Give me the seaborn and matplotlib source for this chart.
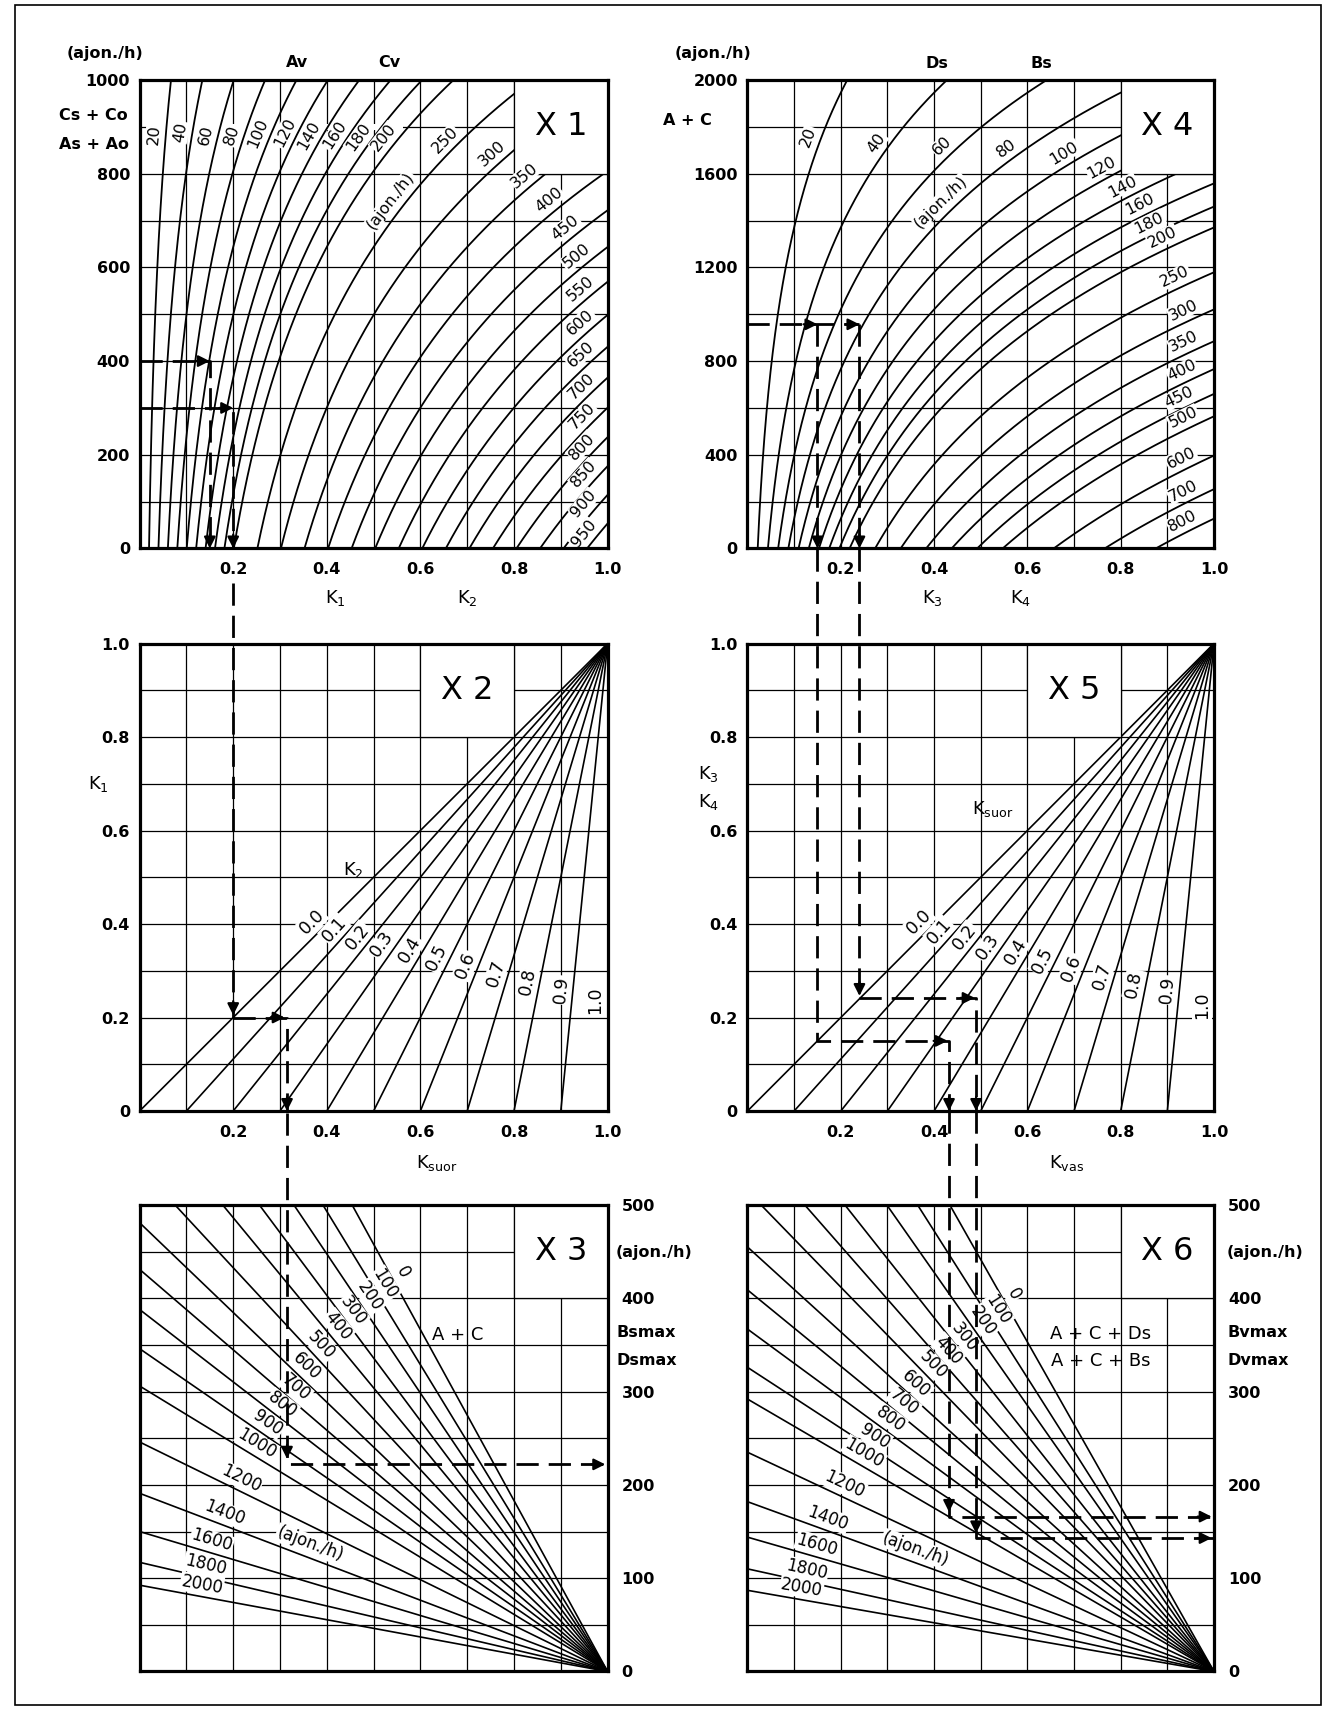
import numpy as np
import pandas as pd
import matplotlib
matplotlib.use("Agg")
import matplotlib.pyplot as plt
from matplotlib.patches import Rectangle
import seaborn as sns

sns.set_theme(style="white")
plt.rcParams["font.family"] = ["DejaVu Sans"]
plt.rcParams["mathtext.default"] = "regular"
plt.rcParams["axes.edgecolor"] = "black"
plt.rcParams["text.color"] = "black"
plt.rcParams["axes.labelcolor"] = "black"
plt.rcParams["xtick.color"] = "black"
plt.rcParams["ytick.color"] = "black"

# ------------------------------------------------------------------ data
# X1 : curves of Av / Cv (ajon./h)
x1_flows = [20, 40, 60, 80, 100, 120, 140, 160, 180, 200, 250, 300, 350, 400,
            450, 500, 550, 600, 650, 700, 750, 800, 850, 900, 950]
# capacity (flow at which K = 1) vs Cs+Co / As+Ao
x1_conf = [0, 46, 110, 174, 238, 302, 370, 430, 502, 567, 647, 723, 800, 845, 972, 1000]
x1_cap = [1000, 950, 900, 850, 800, 750, 700, 650, 600, 550, 500, 450, 400, 375, 312, 300]

# X4 : curves of Ds / Bs (ajon./h)
x4_flows = [20, 40, 60, 80, 100, 120, 140, 160, 180, 200, 250, 300, 350, 400,
            450, 500, 600, 700, 800]
x4_conf = [0, 129, 250, 404, 564, 657, 764, 893, 1014, 1182, 1373, 1458, 1557,
           1614, 1756, 1947, 2000]
x4_cap = [912, 800, 700, 600, 500, 450, 400, 350, 300, 250, 200, 180, 160, 150,
          125, 100, 94]

# X2 / X5 : lines of K2 / Ksuor
k_params = [0.0, 0.1, 0.2, 0.3, 0.4, 0.5, 0.6, 0.7, 0.8, 0.9, 1.0]
k_labels = ["0.0", "0.1", "0.2", "0.3", "0.4", "0.5", "0.6", "0.7", "0.8", "0.9", "1.0"]

# X3 / X6 : lines of A+C (ajon./h); value read at Ksuor / Kvas = 0
x36_flows = [0, 100, 200, 300, 400, 500, 600, 700, 800, 900, 1000, 1200, 1400,
             1600, 1800, 2000]
x3_start = [916, 822, 746, 672, 608, 541, 481, 431, 388, 346, 306, 246, 191, 150,
            117, 92.5]
x6_start = [883, 787, 713, 632, 570, 515, 455, 409, 367, 326, 292, 235, 182, 144,
            110, 87]

# worked example (dashed paths)
x1_ex_q = [400, 300]
x1_ex_k = [0.15, 0.2]
x2_ex_k1 = 0.2
x2_ex_ksuor = 0.315
x3_ex_out = 222
x4_ex_q = 957
x4_ex_k = [0.15, 0.24]
x5_ex_kvas = [0.432, 0.49]
x6_ex_out = [166, 143]

# ------------------------------------------------------------------ layout
fig = plt.figure(figsize=(13.34, 17.11), dpi=100)
fig.patch.set_facecolor("white")
L1, W1 = 0.10465, 0.35082
L2, W2 = 0.56034, 0.34970
R1, R2, R3 = (0.67943, 0.27382), (0.35067, 0.27323), (0.02309, 0.27265)
ax1 = fig.add_axes([L1, R1[0], W1, R1[1]])
ax4 = fig.add_axes([L2, R1[0], W2, R1[1]])
ax2 = fig.add_axes([L1, R2[0], W1, R2[1]])
ax5 = fig.add_axes([L2, R2[0], W2, R2[1]])
ax3 = fig.add_axes([L1, R3[0], W1, R3[1]])
ax6 = fig.add_axes([L2, R3[0], W2, R3[1]])

fig.add_artist(Rectangle((15 / 1334, 1 - 1705 / 1711), 1306 / 1334, 1700 / 1711,
                         transform=fig.transFigure, fill=False, lw=1.2,
                         edgecolor="black"))

GRID = dict(color="black", lw=0.9, zorder=1, solid_capstyle="butt")


def style_axes(ax, ylim, xg, yg, box):
    ax.set_xlim(0, 1)
    ax.set_ylim(*ylim)
    for x in xg:
        ax.plot([x, x], list(ylim), **GRID)
    for y in yg:
        ax.plot([0, 1], [y, y], **GRID)
    bx0, bx1, by0, by1 = box
    ax.add_patch(Rectangle((bx0, by0), bx1 - bx0, by1 - by0, facecolor="white",
                           edgecolor="none", zorder=2.5))
    ax.plot([bx0, bx1, bx1, bx0, bx0], [by0, by0, by1, by1, by0], color="black",
            lw=0.9, zorder=2.6)
    for s in ax.spines.values():
        s.set_visible(True)
        s.set_linewidth(2.3)
        s.set_color("black")
        s.set_zorder(8)
    ax.tick_params(length=0, labelsize=11.5, colors="black")


def finish(ax, ylim):
    ax.set_xlim(0, 1)
    ax.set_ylim(*ylim)
    ax.set_xlabel("")
    ax.set_ylabel("")
    for lab in ax.get_xticklabels() + ax.get_yticklabels():
        lab.set_fontweight("bold")
        lab.set_color("black")


def place_label(ax, cx, cy, cur_x, cur_y, text, off=12, fs=10.5):
    cur_x = np.asarray(cur_x, float)
    cur_y = np.asarray(cur_y, float)
    P = ax.transData.transform(np.column_stack([cur_x, cur_y]))
    c = ax.transData.transform((cx, cy))
    i = int(np.argmin(((P - c) ** 2).sum(1)))
    i0, i1 = max(i - 1, 0), min(i + 1, len(P) - 1)
    d = P[i1] - P[i0]
    if d[0] < 0 or (d[0] == 0 and d[1] < 0):
        d = -d
    ang = np.degrees(np.arctan2(d[1], d[0]))
    n = np.array([-np.sin(np.radians(ang)), np.cos(np.radians(ang))])
    if np.dot(c - P[i], n) < 0:
        n = -n
    ax.annotate(text, xy=(cur_x[i], cur_y[i]), xytext=(n[0] * off, n[1] * off),
                textcoords="offset pixels", rotation=ang, rotation_mode="anchor",
                ha="center", va="center", fontsize=fs, zorder=3, color="black",
                annotation_clip=False,
                bbox=dict(facecolor="white", edgecolor="none", pad=0.6))


DASH = dict(color="black", lw=2.0, ls=(0, (8, 3.6)), zorder=5, clip_on=False,
            dash_capstyle="butt")


def dpath(ax, xs, ys):
    ax.plot(xs, ys, **DASH)


def head(ax, x, y, d):
    back = {"r": (-14, 0), "d": (0, 14)}[d]
    ax.annotate("", xy=(x, y), xytext=back, textcoords="offset pixels",
                annotation_clip=False, zorder=6,
                arrowprops=dict(arrowstyle="-|>", mutation_scale=17, color="black",
                                lw=1.6, shrinkA=0, shrinkB=0))


def side_text(ax, x, y, s, ha="left", fs=11.5, weight="bold", **kw):
    ax.text(x, y, s, ha=ha, va="center", fontsize=fs, fontweight=weight,
            color="black", clip_on=False, **kw)


def dense(xa, ya, n=200):
    t = np.linspace(0, 1, n)
    return xa[0] + (xa[1] - xa[0]) * t, ya[0] + (ya[1] - ya[0]) * t


# ================================================================== X1
Y1 = (0, 1000)
style_axes(ax1, Y1, np.arange(0.1, 1.0, 0.1), np.arange(100, 1000, 100),
           (0.8, 1.0, 800, 1000))
ax1.add_patch(Rectangle((0.018, 893), 0.545, 14, facecolor="white", edgecolor="none",
                        zorder=1.5))
c1 = np.polyfit(x1_conf, np.log(x1_cap), 2)
q1 = np.linspace(0, 1000, 700)
cap1 = np.exp(np.polyval(c1, q1))
rows, curves1 = [], {}
for v in x1_flows:
    k = v / cap1
    m = k <= 1.02
    curves1[v] = (k[m], q1[m])
    rows += [(v, a, b) for a, b in zip(k[m], q1[m])]
df1 = pd.DataFrame(rows, columns=["curve", "k", "q"])
sns.lineplot(data=df1, x="k", y="q", units="curve", estimator=None, sort=False,
             color="black", lw=1.3, ax=ax1, legend=False, zorder=2)
ax1.set_xticks([0.2, 0.4, 0.6, 0.8, 1.0], ["0.2", "0.4", "0.6", "0.8", "1.0"])
ax1.set_yticks([0, 200, 400, 600, 800, 1000], ["0", "200", "400", "600", "800", "1000"])
ax1.tick_params(axis="x", pad=10)
ax1.tick_params(axis="y", pad=7)
finish(ax1, Y1)

x1_lab_pos = [(0.03, 884), (0.094, 887), (0.145, 880), (0.205, 880), (0.26, 884),
              (0.312, 887), (0.367, 877), (0.419, 880), (0.47, 877), (0.522, 877),
              (0.65, 873), (0.752, 845), (0.824, 796), (0.871, 748), (0.911, 685),
              (0.935, 622), (0.942, 553), (0.947, 477), (0.947, 409), (0.947, 345),
              (0.947, 281), (0.947, 217), (0.947, 160), (0.947, 96), (0.947, 32)]
for v, (cx, cy) in zip(x1_flows, x1_lab_pos):
    place_label(ax1, cx, cy, *curves1[v], str(v), off=12, fs=11.5)
place_label(ax1, 0.538, 741, *curves1[250], "(ajon./h)", off=13, fs=11.5)

side_text(ax1, -0.157, 1056, "(ajon./h)")
side_text(ax1, -0.172, 925, "Cs + Co")
side_text(ax1, -0.172, 862, "As + Ao")
side_text(ax1, 0.336, 1038, "Av", ha="center")
side_text(ax1, 0.534, 1038, "Cv", ha="center")
side_text(ax1, 0.418, -106, "K$_1$", ha="center", weight="normal", fs=13)
side_text(ax1, 0.70, -106, "K$_2$", ha="center", weight="normal", fs=13)
side_text(ax1, 0.9, 900, "X 1", ha="center", weight="normal", fs=23)

dpath(ax1, [0, x1_ex_k[0], x1_ex_k[0]], [x1_ex_q[0], x1_ex_q[0], 0])
dpath(ax1, [0, x1_ex_k[1], x1_ex_k[1]], [x1_ex_q[1], x1_ex_q[1], 0])
head(ax1, x1_ex_k[0], x1_ex_q[0], "r")
head(ax1, x1_ex_k[1], x1_ex_q[1], "r")
head(ax1, x1_ex_k[0], 0, "d")
head(ax1, x1_ex_k[1], 0, "d")

# ================================================================== X4
Y4 = (0, 2000)
style_axes(ax4, Y4, np.arange(0.1, 1.0, 0.1), np.arange(200, 2000, 200),
           (0.8, 1.0, 1600, 2000))
c4 = np.polyfit(x4_conf, np.log(x4_cap), 2)
q4 = np.linspace(0, 2000, 800)
cap4 = np.exp(np.polyval(c4, q4))
rows, curves4 = [], {}
for v in x4_flows:
    k = v / cap4
    m = k <= 1.02
    curves4[v] = (k[m], q4[m])
    rows += [(v, a, b) for a, b in zip(k[m], q4[m])]
df4 = pd.DataFrame(rows, columns=["curve", "k", "q"])
sns.lineplot(data=df4, x="k", y="q", units="curve", estimator=None, sort=False,
             color="black", lw=1.3, ax=ax4, legend=False, zorder=2)
ax4.set_xticks([0.2, 0.4, 0.6, 0.8, 1.0], ["0.2", "0.4", "0.6", "0.8", "1.0"])
ax4.set_yticks([0, 400, 800, 1200, 1600, 2000], ["0", "400", "800", "1200", "1600", "2000"])
ax4.tick_params(axis="x", pad=10)
ax4.tick_params(axis="y", pad=7)
finish(ax4, Y4)

x4_lab_pos = [(0.129, 1756), (0.28, 1728), (0.423, 1706), (0.558, 1699), (0.68, 1685),
              (0.76, 1621), (0.804, 1543), (0.84, 1472), (0.863, 1387), (0.891, 1330),
              (0.919, 1153), (0.935, 1018), (0.931, 898), (0.927, 779), (0.923, 657),
              (0.931, 571), (0.931, 379), (0.931, 250), (0.931, 121)]
for v, (cx, cy) in zip(x4_flows, x4_lab_pos):
    place_label(ax4, cx, cy, *curves4[v], str(v), off=12, fs=11.5)
place_label(ax4, 0.419, 1472, *curves4[80], "(ajon./h)", off=13, fs=11.5)

side_text(ax4, -0.156, 2112, "(ajon./h)")
side_text(ax4, -0.181, 1827, "A + C")
side_text(ax4, 0.407, 2072, "Ds", ha="center")
side_text(ax4, 0.629, 2072, "Bs", ha="center")
side_text(ax4, 0.397, -212, "K$_3$", ha="center", weight="normal", fs=13)
side_text(ax4, 0.586, -212, "K$_4$", ha="center", weight="normal", fs=13)
side_text(ax4, 0.9, 1800, "X 4", ha="center", weight="normal", fs=23)

dpath(ax4, [0, x4_ex_k[1]], [x4_ex_q, x4_ex_q])
for kx in x4_ex_k:
    dpath(ax4, [kx, kx], [x4_ex_q, 0])
    head(ax4, kx, x4_ex_q, "r")
    head(ax4, kx, 0, "d")

# ================================================================== X2 / X5
Y2 = (0, 1)
x2_lab_pos = [(0.365, 0.405), (0.413, 0.388), (0.465, 0.37), (0.52, 0.356),
              (0.579, 0.342), (0.639, 0.324), (0.702, 0.31), (0.766, 0.295),
              (0.829, 0.278), (0.905, 0.26), (0.976, 0.235)]
x5_lab_pos = [(0.368, 0.402), (0.415, 0.381), (0.467, 0.37), (0.519, 0.349),
              (0.578, 0.334), (0.642, 0.32), (0.702, 0.302), (0.761, 0.288),
              (0.833, 0.27), (0.905, 0.256), (0.976, 0.228)]
for ax, labpos in ((ax2, x2_lab_pos), (ax5, x5_lab_pos)):
    style_axes(ax, Y2, np.arange(0.1, 1.0, 0.1), np.arange(0.1, 1.0, 0.1),
               (0.6, 0.8, 0.8, 1.0))
    rows = []
    for p in k_params:
        rows += [(p, p, 0.0), (p, 1.0, 1.0)]
    dfl = pd.DataFrame(rows, columns=["curve", "x", "y"])
    sns.lineplot(data=dfl, x="x", y="y", units="curve", estimator=None, sort=False,
                 color="black", lw=1.2, ax=ax, legend=False, zorder=2)
    ax.set_xticks([0.2, 0.4, 0.6, 0.8, 1.0], ["0.2", "0.4", "0.6", "0.8", "1.0"])
    ax.set_yticks([0, 0.2, 0.4, 0.6, 0.8, 1.0], ["0", "0.2", "0.4", "0.6", "0.8", "1.0"])
    ax.tick_params(axis="x", pad=10)
    ax.tick_params(axis="y", pad=7)
    finish(ax, Y2)
    for p, lab, (cx, cy) in zip(k_params, k_labels, labpos):
        lx, ly = dense((p, 1.0), (0.0, 1.0))
        place_label(ax, cx, cy, lx, ly, lab, off=12, fs=12.5)

side_text(ax2, -0.087, 0.70, "K$_1$", ha="center", weight="normal", fs=13)
side_text(ax2, 0.634, -0.111, "K$_{suor}$", ha="center", weight="normal", fs=13)
side_text(ax2, 0.456, 0.515, "K$_2$", ha="center", weight="normal", fs=13)
side_text(ax2, 0.7, 0.9, "X 2", ha="center", weight="normal", fs=23)
side_text(ax5, -0.083, 0.72, "K$_3$", ha="center", weight="normal", fs=13)
side_text(ax5, -0.083, 0.662, "K$_4$", ha="center", weight="normal", fs=13)
side_text(ax5, 0.685, -0.111, "K$_{vas}$", ha="center", weight="normal", fs=13)
side_text(ax5, 0.525, 0.645, "K$_{suor}$", ha="center", weight="normal", fs=13)
side_text(ax5, 0.7, 0.9, "X 5", ha="center", weight="normal", fs=23)

# X2 worked example
dpath(ax2, [x2_ex_k1, x2_ex_k1], [1.13, x2_ex_k1])
dpath(ax2, [x2_ex_k1, x2_ex_ksuor, x2_ex_ksuor], [x2_ex_k1, x2_ex_k1, 0])
head(ax2, x2_ex_k1, x2_ex_k1 + 0.005, "d")
head(ax2, x2_ex_ksuor - 0.005, x2_ex_k1, "r")
head(ax2, x2_ex_ksuor, 0, "d")

# X5 worked example
top5 = 1 + 95 / 467.5
k3, k4 = x4_ex_k
dpath(ax5, [k3, k3, x5_ex_kvas[0], x5_ex_kvas[0]], [top5, k3, k3, 0])
dpath(ax5, [k4, k4], [top5, k4 + 0.002])
dpath(ax5, [k4, x5_ex_kvas[1], x5_ex_kvas[1]], [k4 + 0.002, k4 + 0.002, 0])
head(ax5, x5_ex_kvas[0] - 0.003, k3, "r")
head(ax5, k4, k4 + 0.006, "d")
head(ax5, x5_ex_kvas[1] - 0.003, k4 + 0.002, "r")
head(ax5, x5_ex_kvas[0], 0, "d")
head(ax5, x5_ex_kvas[1], 0, "d")

# ================================================================== X3 / X6
Y3 = (0, 500)
x3_lab_pos = [(0.552, 425), (0.523, 415), (0.49, 402), (0.454, 386), (0.417, 368),
              (0.384, 349), (0.355, 326), (0.326, 299), (0.297, 281), (0.269, 262),
              (0.248, 242), (0.215, 206), (0.178, 167), (0.154, 139), (0.141, 114),
              (0.133, 94)]
x6_lab_pos = [(0.566, 402), (0.529, 386), (0.5, 374), (0.467, 359), (0.426, 343),
              (0.389, 324), (0.357, 306), (0.328, 285), (0.299, 267), (0.266, 247),
              (0.246, 230), (0.205, 198), (0.172, 164), (0.148, 135), (0.127, 108.5),
              (0.115, 85)]
for ax, starts, labpos in ((ax3, x3_start, x3_lab_pos), (ax6, x6_start, x6_lab_pos)):
    style_axes(ax, Y3, np.arange(0.1, 1.0, 0.1), np.arange(50, 500, 50),
               (0.8, 1.0, 400, 500))
    rows = []
    for v, s in zip(x36_flows, starts):
        rows += [(v, 0.0, s), (v, 1.0, 0.0)]
    dfl = pd.DataFrame(rows, columns=["curve", "x", "y"])
    sns.lineplot(data=dfl, x="x", y="y", units="curve", estimator=None, sort=False,
                 color="black", lw=1.2, ax=ax, legend=False, zorder=2)
    ax.yaxis.tick_right()
    ax.set_xticks([])
    ax.set_yticks([0, 100, 200, 300, 400, 500], ["0", "100", "200", "300", "400", "500"])
    ax.tick_params(axis="y", pad=10)
    finish(ax, Y3)
    for v, s, (cx, cy) in zip(x36_flows, starts, labpos):
        lx, ly = dense((0.0, 1.0), (s, 0.0), 600)
        m = ly <= 500
        place_label(ax, cx, cy, lx[m], ly[m], str(v), off=12, fs=12)
    i14 = x36_flows.index(1400)
    lx, ly = dense((0.0, 1.0), (starts[i14], 0.0), 600)
    place_label(ax, 0.36, 132, lx, ly, "(ajon./h)", off=13, fs=12)
    side_text(ax, 0.9, 450, "X " + ("3" if ax is ax3 else "6"), ha="center",
              weight="normal", fs=23)

side_text(ax3, 1.018, 449.6, "(ajon./h)")
side_text(ax3, 1.018, 362.8, "Bsmax")
side_text(ax3, 1.018, 332.8, "Dsmax")
side_text(ax3, 0.68, 361, "A + C", ha="center", weight="normal", fs=13)
side_text(ax6, 1.028, 449.6, "(ajon./h)")
side_text(ax6, 1.028, 362.8, "Bvmax")
side_text(ax6, 1.028, 332.8, "Dvmax")
side_text(ax6, 0.757, 362, "A + C + Ds", ha="center", weight="normal", fs=13)
side_text(ax6, 0.757, 333, "A + C + Bs", ha="center", weight="normal", fs=13)

top3 = 500 + (1205 - 1113) * 500 / 466.5
dpath(ax3, [x2_ex_ksuor, x2_ex_ksuor, 1.0], [top3, x3_ex_out, x3_ex_out])
head(ax3, x2_ex_ksuor, x3_ex_out + 6, "d")
head(ax3, 0.995, x3_ex_out, "r")

top6 = 500 + (1205 - 1111) * 500 / 466.5
for kx, out in zip(x5_ex_kvas, x6_ex_out):
    dpath(ax6, [kx, kx, 1.0], [top6, out, out])
    head(ax6, kx, out + 5, "d")
    head(ax6, 0.995, out, "r")

fig.savefig("out.png", dpi=100, facecolor="white")
